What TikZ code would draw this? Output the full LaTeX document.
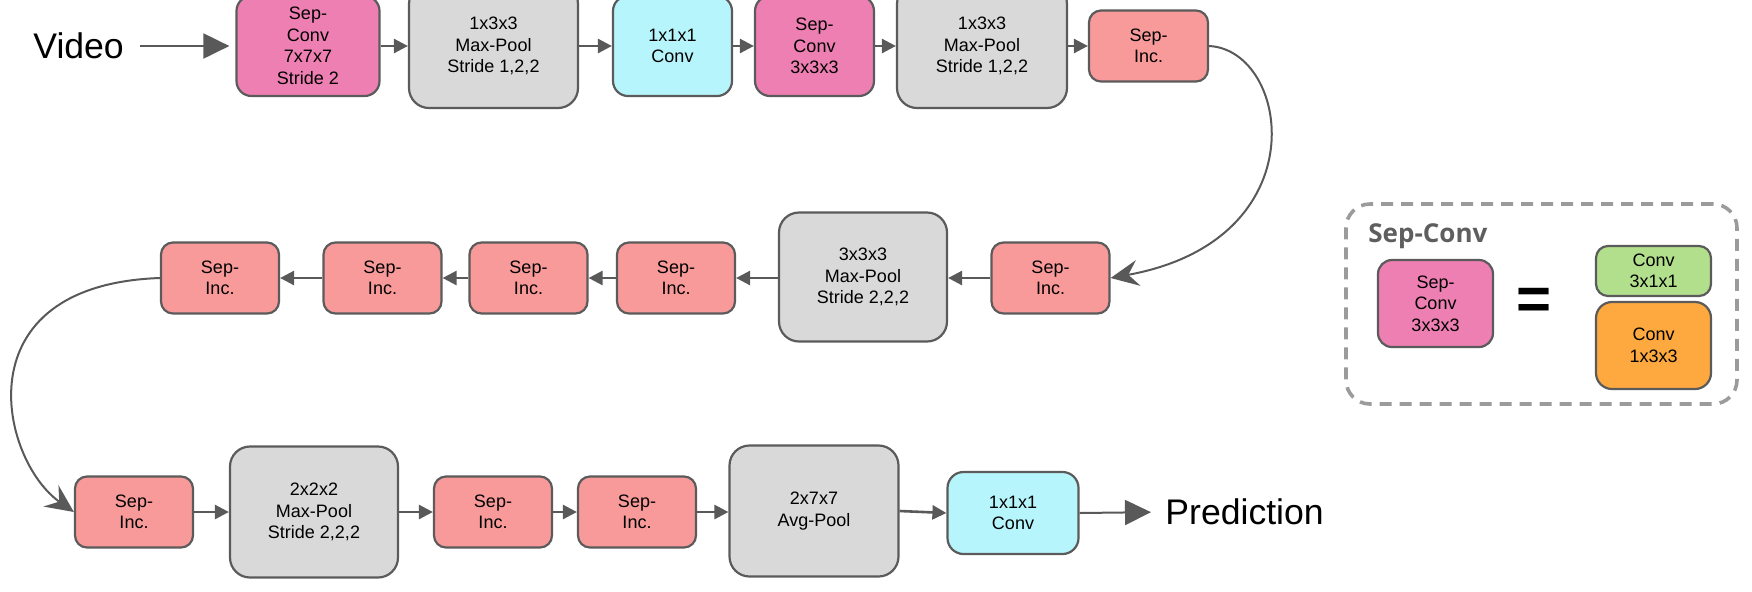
\documentclass[tikz,border=0pt]{standalone}
\usepackage{fontspec}
\setmainfont{Liberation Sans}
\newfontfamily\labelfont{Open Sans}
\usetikzlibrary{arrows.meta}
\definecolor{bordc}{HTML}{5B5B5B}
\definecolor{arrc}{HTML}{595959}
\definecolor{pinkc}{HTML}{EE7FB2}
\definecolor{grayc}{HTML}{D9D9D9}
\definecolor{cyanc}{HTML}{B7F5FC}
\definecolor{salmc}{HTML}{F99A9A}
\definecolor{greenc}{HTML}{B2DF8C}
\definecolor{orangec}{HTML}{FEA93F}
\definecolor{dashc}{HTML}{9B9B9B}
\definecolor{labc}{HTML}{5E5E5E}
\begin{document}
\begin{tikzpicture}[x=0.5pt,y=-0.5pt,
  box/.style={draw=bordc, line width=1.1pt, align=center, inner sep=0pt,
    font=\fontsize{9}{10.75}\selectfont, text=black},
  sepinc/.style={box, fill=salmc, rounded corners=6pt, minimum width=59pt, minimum height=35.5pt},
  pool/.style={box, fill=grayc, rounded corners=10pt, minimum width=84.5pt, minimum height=63pt},
  convbox/.style={box, fill=cyanc, rounded corners=7.5pt, minimum width=59.5pt, minimum height=50pt},
  sepconv/.style={box, fill=pinkc, rounded corners=7.5pt, minimum width=59.5pt, minimum height=50pt},
  sarrow/.style={draw=arrc, line width=1.3pt, -{Triangle[length=7pt,width=7pt]}},
  barrow/.style={draw=arrc, line width=1pt, -{Triangle[length=13pt,width=12.5pt]}},
  carrow/.style={draw=arrc, line width=1pt, -{Stealth[length=14pt,width=13pt,inset=5pt]}},
  bigtext/.style={inner sep=0pt, font=\fontsize{17.8}{20}\selectfont}
]
\useasboundingbox (0,0) rectangle (1752,591);

% Row 1
\node[bigtext, anchor=west] (video) at (33,46) {Video};
\node[sepconv, minimum width=71.5pt] (A) at (308,46) {Sep-\\Conv\\7x7x7\\Stride 2};
\node[pool, minimum height=62pt] (B) at (493.5,46) {1x3x3\\Max-Pool\\Stride 1,2,2};
\node[convbox] (C) at (672.5,46) {1x1x1\\Conv};
\node[sepconv] (D) at (814.5,46) {Sep-\\Conv\\3x3x3};
\node[pool, minimum width=85pt, minimum height=62pt] (E) at (982,46) {1x3x3\\Max-Pool\\Stride 1,2,2};
\node[sepinc, minimum width=59.5pt] (F) at (1148.5,46) {Sep-\\Inc.};

% Row 2
\node[sepinc] (G) at (1050.5,278) {Sep-\\Inc.};
\node[pool, minimum width=84pt, minimum height=64.5pt] (H) at (863,277) {3x3x3\\Max-Pool\\Stride 2,2,2};
\node[sepinc] (I) at (676,278) {Sep-\\Inc.};
\node[sepinc] (J) at (528.5,278) {Sep-\\Inc.};
\node[sepinc] (K) at (382.5,278) {Sep-\\Inc.};
\node[sepinc] (L) at (220,278) {Sep-\\Inc.};

% Row 3
\node[sepinc] (M) at (134,512) {Sep-\\Inc.};
\node[pool, minimum width=84pt, minimum height=65.5pt] (N) at (314,512) {2x2x2\\Max-Pool\\Stride 2,2,2};
\node[sepinc] (O) at (493,512) {Sep-\\Inc.};
\node[sepinc] (P) at (637,512) {Sep-\\Inc.};
\node[pool, minimum height=65.5pt] (Q) at (814,511) {2x7x7\\Avg-Pool};
\node[convbox, minimum width=65.5pt, minimum height=41pt, rounded corners=8pt] (R) at (1013,513) {1x1x1\\Conv};
\node[bigtext, anchor=west] (pred) at (1165,512) {Prediction};

% Connectors row 1
\draw[barrow, shorten <=8pt, shorten >=3pt] (video.east) -- (A.west);
\draw[sarrow] (A.east) -- (B.west);
\draw[sarrow] (B.east) -- (C.west);
\draw[sarrow] (C.east) -- (D.west);
\draw[sarrow] (D.east) -- (E.west);
\draw[sarrow] (E.east) -- (F.west);
\draw[carrow] (F.east) .. controls (1290,50) and (1320,240) .. (G.east);

% Connectors row 2
\draw[sarrow] (G.west) -- (G.west -| H.east);
\draw[sarrow] (H.west |- I.east) -- (I.east);
\draw[sarrow] (I.west) -- (J.east);
\draw[sarrow] (J.west) -- (K.east);
\draw[sarrow] (K.west) -- (L.east);
\draw[carrow] (L.west) .. controls (-40,285) and (0,460) .. (M.west);

% Connectors row 3
\draw[sarrow] (M.east) -- (N.west |- M.east);
\draw[sarrow] (N.east |- O.west) -- (O.west);
\draw[sarrow] (O.east) -- (P.west);
\draw[sarrow] (P.east) -- (Q.west |- P.east);
\draw[sarrow] (Q.east) -- (R.west);
\draw[barrow, shorten >=7pt] (R.east) -- (pred.west);

% Legend
\node[draw=dashc, line width=1.8pt, dash pattern=on 6pt off 4pt, rounded corners=12pt,
  minimum width=195.5pt, minimum height=100pt, inner sep=0pt] (legend) at (1541.5,304) {};
\node[anchor=base west, inner sep=0pt, text=labc, font=\labelfont\bfseries\fontsize{13}{15}\selectfont] (legtitle) at (1368,242) {Sep-Conv};
\node[sepconv, minimum width=57.5pt, minimum height=43.5pt, rounded corners=7pt] (lsc) at (1435.5,303.5) {Sep-\\Conv\\3x3x3};
\node[inner sep=0pt, font=\bfseries\fontsize{30}{30}\selectfont] (eq) at (1534,303.5) {=};
\node[box, fill=greenc, minimum width=57.5pt, minimum height=25pt, rounded corners=6pt] (lg) at (1653.5,271) {Conv\\3x1x1};
\node[box, fill=orangec, minimum width=57.5pt, minimum height=43.5pt, rounded corners=8pt] (lo) at (1653.5,345.5) {Conv\\1x3x3};
\end{tikzpicture}
\end{document}
